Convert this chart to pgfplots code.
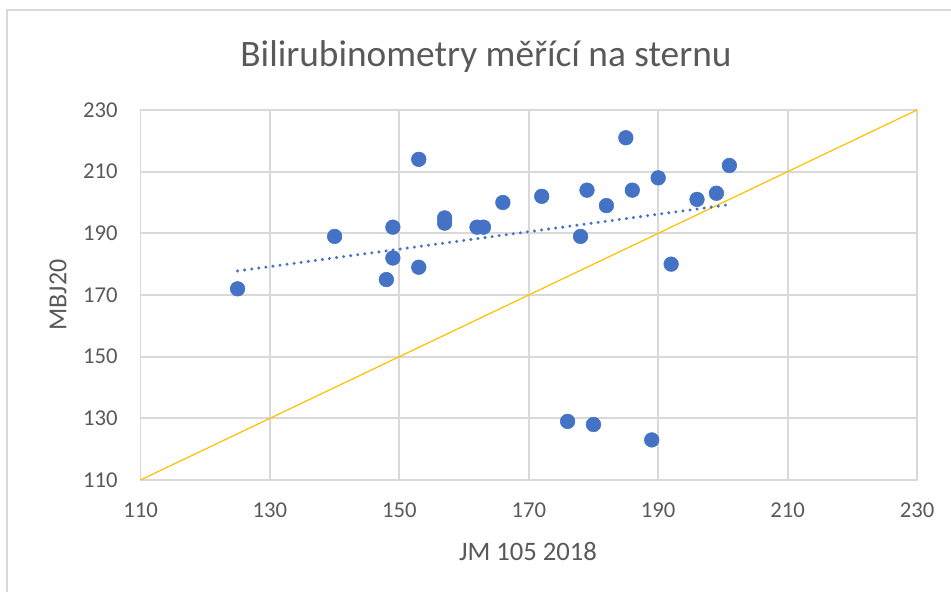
\documentclass[border=0pt]{standalone}
\usepackage{pgfplots}
\pgfplotsset{compat=1.18}
\usepackage{fontspec}
\setmainfont{Carlito}
\definecolor{mblue}{HTML}{4472C4}
\definecolor{mgold}{HTML}{FFC000}
\definecolor{tgrey}{HTML}{595959}
\definecolor{ggrey}{HTML}{D9D9D9}
\begin{document}
\begin{tikzpicture}[x=0.75pt,y=0.75pt]
\useasboundingbox (0,0) rectangle (951,592);
\draw[ggrey, line width=1.3pt] (7,-5) -- (7,582) -- (960,582);
\node[text=tgrey, font=\fontsize{28}{32}\selectfont] at (486,535) {Bilirubinometry měřící na sternu};
\node[text=tgrey, font=\fontsize{19.5}{23}\selectfont, rotate=90] at (58,297) {MBJ20};
\node[text=tgrey, font=\fontsize{20}{24}\selectfont] at (528,41) {JM 105 2018};
\begin{axis}[
  at={(105.375pt,84pt)}, anchor=south west,
  scale only axis, width=582.4pt, height=277.5pt,
  xmin=110, xmax=230, ymin=110, ymax=230,
  xtick={110,130,...,230}, ytick={110,130,...,230},
  grid=major, major grid style={ggrey, line width=1.4pt},
  axis line style={ggrey, line width=1.4pt},
  tick style={draw=none},
  ticklabel style={font=\fontsize{17}{20}\selectfont, text=tgrey},
  /pgf/number format/assume math mode=true,
  xticklabel style={anchor=center, yshift=-23pt},
  yticklabel style={anchor=east, inner sep=0pt, xshift=-17pt},
  clip=false,
]
\addplot[mgold, line width=0.9pt] coordinates {(110,110) (230,230)};
\addplot[mblue, line width=2.5pt, line cap=round, dash pattern=on 0pt off 5.35pt] coordinates {(125,177.8) (201,199.3)};
\addplot[only marks, mark=*, mark size=5.5pt, mark options={fill=mblue, draw=mblue}] coordinates {
(125,172) (140,189) (149,192) (149,182) (148,175) (153,214) (153,179)
(157,195) (157,193.3) (162,192) (163,192) (166,200) (172,202) (179,204)
(178,189) (182,199) (185,221) (186,204) (190,208) (192,180) (196,201)
(199,203) (201,212) (176,129) (180,128) (189,123)
};
\end{axis}
\end{tikzpicture}
\end{document}
